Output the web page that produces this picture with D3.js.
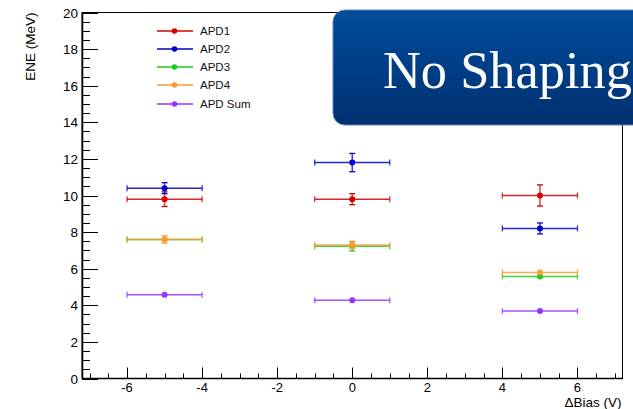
<!DOCTYPE html>
<html>
<head>
<meta charset="utf-8">
<script src="https://cdn.jsdelivr.net/npm/d3@7/dist/d3.min.js"></script>
<style>
  body { margin: 0; background: #fff; }
  svg { display: block; font-family: "Liberation Sans", Arial, Helvetica, sans-serif; }
</style>
</head>
<body>
<svg id="chart" width="633" height="409"></svg>
<script>
// --- data ---
const biasValues = [-5, 0, 5];
const biasHalfWidth = 1;
const seriesNames = ["APD1", "APD2", "APD3", "APD4", "APD Sum"];
const seriesColors = ["#d40000", "#0000cc", "#19cc19", "#ff9933", "#9933ff"];
const apd1 = [9.8, 9.8, 10.0];
const apd1Err = [0.4, 0.3, 0.58];
const apd2 = [10.4, 11.8, 8.2];
const apd2Err = [0.3, 0.5, 0.3];
const apd3 = [7.6, 7.22, 5.57];
const apd3Err = [0.15, 0.25, 0.1];
const apd4 = [7.6, 7.3, 5.79];
const apd4Err = [0.2, 0.2, 0.1];
const apdSum = [4.58, 4.28, 3.69];
const apdSumErr = [0.05, 0.05, 0.05];
const xTicks = [-6, -4, -2, 0, 2, 4, 6];
const yTicks = [0, 2, 4, 6, 8, 10, 12, 14, 16, 18, 20];

const series = [
  { values: apd1, errs: apd1Err },
  { values: apd2, errs: apd2Err },
  { values: apd3, errs: apd3Err },
  { values: apd4, errs: apd4Err },
  { values: apdSum, errs: apdSumErr }
].map((s, i) => ({ name: seriesNames[i], color: seriesColors[i], ...s }));

const svg = d3.select("#chart");
const frame = { left: 82, right: 622.5, top: 12.5, bottom: 378.5 };

const x = d3.scaleLinear().domain([-7.2, 7.2]).range([frame.left, frame.right]);
const y = d3.scaleLinear().domain([0, 20]).range([frame.bottom, frame.top]);

// frame (top and right)
svg.append("rect")
  .attr("x", frame.left).attr("y", frame.top)
  .attr("width", frame.right - frame.left).attr("height", frame.bottom - frame.top)
  .attr("fill", "none").attr("stroke", "#000").attr("stroke-width", 1);

// Y axis: major + minor ticks
const yMinor = d3.range(0, 20.01, 0.5).filter(v => Math.abs(v % 2) > 1e-6);
const yAxis = svg.append("g");
yAxis.selectAll("line.maj").data(yTicks).enter().append("line")
  .attr("x1", frame.left).attr("x2", frame.left + 16)
  .attr("y1", d => Math.round(y(d)) + 0.5).attr("y2", d => Math.round(y(d)) + 0.5)
  .attr("stroke", "#000");
yAxis.selectAll("line.min").data(yMinor).enter().append("line")
  .attr("x1", frame.left).attr("x2", frame.left + 8)
  .attr("y1", d => Math.round(y(d)) + 0.5).attr("y2", d => Math.round(y(d)) + 0.5)
  .attr("stroke", "#000");
yAxis.append("line")
  .attr("x1", frame.left + 0.5).attr("x2", frame.left + 0.5)
  .attr("y1", frame.top).attr("y2", frame.bottom)
  .attr("stroke", "#000").attr("stroke-width", 1.5);
yAxis.selectAll("text").data(yTicks).enter().append("text")
  .attr("x", frame.left - 4).attr("y", d => y(d) + 5)
  .attr("text-anchor", "end").attr("font-size", 13.5).text(d => d);

svg.append("text")
  .attr("transform", `translate(35,${frame.top}) rotate(-90)`)
  .attr("text-anchor", "end").attr("font-size", 13.5).text("ENE (MeV)");

// X axis
const xMinor = d3.range(-7, 7.01, 0.5).filter(v => Math.abs(v % 2) > 1e-6);
const xAxis = svg.append("g");
xAxis.selectAll("line.maj").data(xTicks).enter().append("line")
  .attr("x1", d => Math.round(x(d)) + 0.5).attr("x2", d => Math.round(x(d)) + 0.5)
  .attr("y1", frame.bottom).attr("y2", frame.bottom - 11)
  .attr("stroke", "#000");
xAxis.selectAll("line.min").data(xMinor).enter().append("line")
  .attr("x1", d => Math.round(x(d)) + 0.5).attr("x2", d => Math.round(x(d)) + 0.5)
  .attr("y1", frame.bottom).attr("y2", frame.bottom - 5)
  .attr("stroke", "#000");
xAxis.append("line")
  .attr("x1", frame.left).attr("x2", frame.right)
  .attr("y1", frame.bottom).attr("y2", frame.bottom)
  .attr("stroke", "#000").attr("stroke-width", 1.5);
xAxis.selectAll("text").data(xTicks).enter().append("text")
  .attr("x", d => x(d)).attr("y", frame.bottom + 13)
  .attr("text-anchor", "middle").attr("font-size", 13).text(d => d);

svg.append("text")
  .attr("x", frame.right - 1).attr("y", 407)
  .attr("text-anchor", "end").attr("font-size", 13.5).text("\u0394Bias (V)");

// data: error bars with caps + markers
const plot = svg.append("g");
series.forEach(s => {
  const g = plot.append("g").attr("stroke", s.color).attr("fill", s.color);
  biasValues.forEach((b, i) => {
    const cx = x(b), cy = y(s.values[i]);
    const xl = x(b - biasHalfWidth), xr = x(b + biasHalfWidth);
    const yt = y(s.values[i] + s.errs[i]), yb = y(s.values[i] - s.errs[i]);
    g.append("line").attr("x1", xl).attr("x2", xr).attr("y1", cy).attr("y2", cy)
      .attr("stroke-width", 1.5).attr("stroke-opacity", 0.85);
    [xl, xr].forEach(xe => g.append("line").attr("x1", xe).attr("x2", xe)
      .attr("y1", cy - 3).attr("y2", cy + 3).attr("stroke-width", 1.3).attr("stroke-opacity", 0.8));
    if (cy - yt > 3) {
      g.append("line").attr("x1", cx).attr("x2", cx).attr("y1", yt).attr("y2", yb)
        .attr("stroke-width", 1.5).attr("stroke-opacity", 0.75);
      [yt, yb].forEach(ye => g.append("line").attr("x1", cx - 3).attr("x2", cx + 3)
        .attr("y1", ye).attr("y2", ye).attr("stroke-width", 1.3));
    }
    g.append("circle").attr("cx", cx).attr("cy", cy).attr("r", 3).attr("stroke", "none");
  });
});

// legend
const legend = svg.append("g");
const legendY = [31, 49, 67, 85, 104];
series.forEach((s, i) => {
  const ly = legendY[i];
  legend.append("line").attr("x1", 157).attr("x2", 193).attr("y1", ly).attr("y2", ly)
    .attr("stroke", s.color).attr("stroke-width", 1.5);
  legend.append("circle").attr("cx", 174.5).attr("cy", ly).attr("r", 2.8).attr("fill", s.color);
  legend.append("text").attr("x", 200).attr("y", ly + 4).attr("font-size", 11.5)
    .attr("fill", "#111").text(s.name);
});

// "No Shaping" banner
const defs = svg.append("defs");
const grad = defs.append("linearGradient").attr("id", "bannerGrad")
  .attr("x1", 0).attr("y1", 0).attr("x2", 0).attr("y2", 1);
grad.append("stop").attr("offset", "0%").attr("stop-color", "#004c9c");
grad.append("stop").attr("offset", "100%").attr("stop-color", "#003070");
svg.append("rect")
  .attr("x", 333).attr("y", 10).attr("width", 330).attr("height", 115).attr("rx", 12)
  .attr("fill", "url(#bannerGrad)").attr("stroke", "#5a85b8").attr("stroke-width", 1);
svg.append("text")
  .attr("x", 383).attr("y", 88)
  .attr("font-family", "'Liberation Serif', 'DejaVu Serif', serif")
  .attr("font-size", 52).attr("fill", "#fff")
  .attr("textLength", 249).attr("lengthAdjust", "spacingAndGlyphs")
  .text("No Shaping");
</script>
</body>
</html>
